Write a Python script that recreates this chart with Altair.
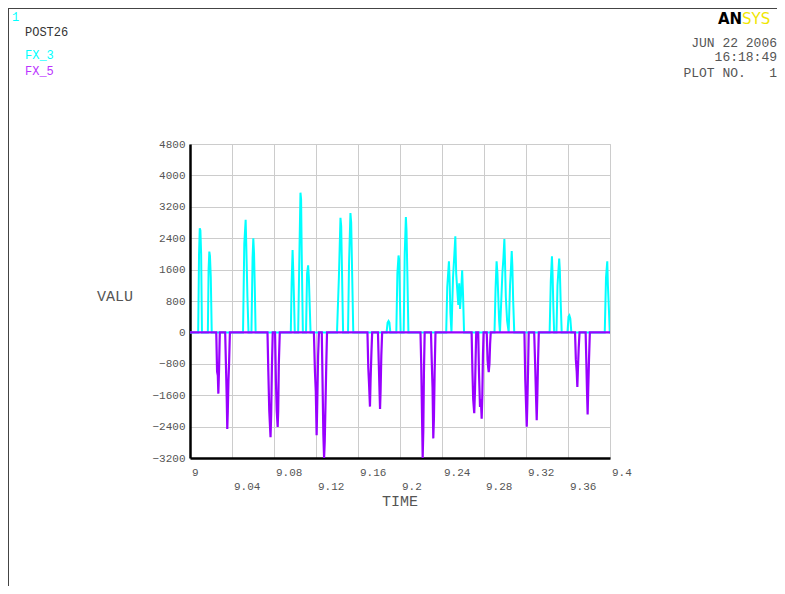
import altair as alt
import pandas as pd

# ---------------- data ----------------
fx3_time = [
    9.0000,
    9.0078, 9.0086, 9.0093, 9.0099, 9.0106, 9.0114,
    9.0170, 9.0177, 9.0184, 9.0190, 9.0198, 9.0207,
    9.0505, 9.0517, 9.0530, 9.0537, 9.0547, 9.0557,
    9.0585, 9.0596, 9.0603, 9.0610, 9.0617, 9.0625,
    9.0960, 9.0968, 9.0977, 9.0983, 9.0990, 9.0998,
    9.1030, 9.1042, 9.1052, 9.1058, 9.1065, 9.1075,
    9.1105, 9.1115, 9.1125, 9.1132, 9.1140, 9.1148,
    9.1400, 9.1418, 9.1433, 9.1440, 9.1448, 9.1458,
    9.1505, 9.1515, 9.1528, 9.1535, 9.1545, 9.1555,
    9.1872, 9.1882, 9.1891, 9.1899, 9.1908,
    9.1965, 9.1975, 9.1986, 9.1992, 9.1998, 9.2006,
    9.2035, 9.2045, 9.2056, 9.2062, 9.2070, 9.2080,
    9.2440, 9.2450, 9.2466, 9.2472, 9.2480, 9.2490, 9.2505, 9.2518, 9.2527,
    9.2535, 9.2545, 9.2555, 9.2564, 9.2572, 9.2580, 9.2592, 9.2600, 9.2610,
    9.2900, 9.2910, 9.2920, 9.2928, 9.2936, 9.2944, 9.2952, 9.2975, 9.2985,
    9.2994, 9.3000, 9.3008, 9.3020, 9.3035, 9.3048, 9.3057, 9.3064, 9.3070,
    9.3078, 9.3088,
    9.3425, 9.3436, 9.3447, 9.3453, 9.3460, 9.3468,
    9.3490, 9.3500, 9.3516, 9.3522, 9.3530, 9.3540,
    9.3595, 9.3605, 9.3613, 9.3622, 9.3632,
    9.3950, 9.3962, 9.3974, 9.3980, 9.3990, 9.3998,
    9.4000,
]
fx3_value = [
    0,
    0, 2000, 2650, 2600, 2000, 0,
    0, 1600, 2060, 1950, 1400, 0,
    0, 2250, 2870, 2100, 900, 0,
    0, 1900, 2400, 2000, 1150, 0,
    0, 1250, 2100, 1600, 900, 0,
    0, 2000, 3560, 3400, 1800, 0,
    0, 1500, 1710, 1400, 700, 0,
    0, 1400, 2920, 2700, 1500, 0,
    0, 1800, 3040, 2800, 1400, 0,
    0, 250, 290, 250, 0,
    0, 1500, 1960, 1850, 1000, 0,
    0, 2000, 2940, 2600, 1500, 0,
    0, 1150, 1810, 1400, 500, 0, 1400, 2000, 2450,
    1500, 1100, 700, 1250, 600, 900, 1580, 1000, 0,
    0, 1100, 1810, 1500, 900, 300, 0, 1500, 1900,
    2380, 1800, 900, 300, 0, 1200, 1650, 2070, 1700,
    800, 0,
    0, 1300, 1940, 1500, 700, 0,
    0, 1200, 1880, 1600, 800, 0,
    0, 400, 433, 350, 0,
    0, 1400, 1810, 1200, 560, 0,
    0,
]

fx5_time = [
    9.0000,
    9.0250, 9.0258, 9.0265, 9.0270, 9.0276, 9.0284,
    9.0335, 9.0343, 9.0350, 9.0355, 9.0360, 9.0366, 9.0372, 9.0380,
    9.0738, 9.0746, 9.0755, 9.0767, 9.0773, 9.0780, 9.0788,
    9.0810, 9.0818, 9.0826, 9.0835, 9.0840, 9.0846, 9.0855,
    9.1180, 9.1190, 9.1198, 9.1206, 9.1212, 9.1220, 9.1228,
    9.1255, 9.1262, 9.1270, 9.1277, 9.1283, 9.1290, 9.1298, 9.1305,
    9.1690, 9.1698, 9.1705, 9.1714, 9.1720, 9.1728, 9.1735,
    9.1790, 9.1798, 9.1805, 9.1810, 9.1815, 9.1822, 9.1830,
    9.2195, 9.2202, 9.2209, 9.2216, 9.2222, 9.2228, 9.2235,
    9.2295, 9.2302, 9.2310, 9.2317, 9.2323, 9.2330, 9.2338,
    9.2682, 9.2690, 9.2697, 9.2707, 9.2714, 9.2720, 9.2726,
    9.2745, 9.2752, 9.2762, 9.2770, 9.2778, 9.2784, 9.2790, 9.2796,
    9.2826, 9.2834, 9.2840, 9.2845, 9.2852, 9.2858, 9.2864,
    9.3185, 9.3193, 9.3200, 9.3207, 9.3213, 9.3220, 9.3226,
    9.3278, 9.3287, 9.3295, 9.3302, 9.3308, 9.3315, 9.3322,
    9.3667, 9.3675, 9.3683, 9.3689, 9.3695, 9.3702, 9.3710,
    9.3768, 9.3775, 9.3781, 9.3787, 9.3793, 9.3800, 9.3808,
    9.4000,
]
fx5_value = [
    0,
    0, -1000, -1100, -1560, -1000, 0,
    0, -900, -1700, -2460, -2000, -1250, -800, 0,
    0, -1000, -2000, -2670, -2100, -900, 0,
    0, -1200, -2000, -2410, -2000, -800, 0,
    0, -1000, -1500, -2620, -1800, -600, 0,
    0, -1200, -2600, -3200, -2800, -1900, -800, 0,
    0, -900, -1300, -1890, -1200, -500, 0,
    0, -800, -1500, -1950, -1500, -600, 0,
    0, -800, -2000, -3200, -2500, -1000, 0,
    0, -700, -1400, -2700, -2200, -1000, 0,
    0, -1000, -1700, -2060, -1500, -700, 0,
    0, -1000, -1900, -1700, -2200, -1600, -600, 0,
    0, -700, -900, -1010, -800, -300, 0,
    0, -1200, -1800, -2400, -1800, -900, 0,
    0, -800, -1600, -2240, -1600, -700, 0,
    0, -700, -1000, -1390, -900, -400, 0,
    0, -800, -1500, -2090, -1400, -700, 0,
    0,
]

x_ticks = [9.0, 9.04, 9.08, 9.12, 9.16, 9.2, 9.24, 9.28, 9.32, 9.36, 9.4]
x_upper_vals = [9.0, 9.08, 9.16, 9.24, 9.32, 9.4]
x_upper_labels = ["9", "9.08", "9.16", "9.24", "9.32", "9.4"]
x_lower_vals = [9.04, 9.12, 9.2, 9.28, 9.36]
x_lower_labels = ["9.04", "9.12", "9.2", "9.28", "9.36"]
y_ticks = [-3200, -2400, -1600, -800, 0, 800, 1600, 2400, 3200, 4000, 4800]

# ---------------- layout ----------------
W, H = 420, 314
PAD_L, PAD_T = 182, 136
TOTAL_W, TOTAL_H = 769, 578
PAD_R = TOTAL_W - PAD_L - W
PAD_B = TOTAL_H - PAD_T - H

MONO = "Liberation Mono"
GRAY = "#555555"
CYAN = "#00ffff"
PURPLE = "#9900ff"
NB = "\u00a0"

xs = alt.Scale(domain=[9.0, 9.4], nice=False, zero=False)
ys = alt.Scale(domain=[-3200, 4800], nice=False, zero=False)

x_axis = alt.Axis(values=x_ticks, labels=False, ticks=False, title=None,
                  grid=True, gridColor="#cccccc", gridWidth=1,
                  domainColor="#000000", domainWidth=2.5)
y_axis = alt.Axis(values=y_ticks, format="d", ticks=False, title=None,
                  labelFont=MONO, labelFontSize=11, labelColor=GRAY,
                  labelPadding=5, labelOverlap=False, labelBound=False,
                  grid=True, gridColor="#cccccc", gridWidth=1,
                  domainColor="#000000", domainWidth=2.5)

df3 = pd.DataFrame({"TIME": fx3_time, "VALU": fx3_value})
df5 = pd.DataFrame({"TIME": fx5_time, "VALU": fx5_value})

line3 = alt.Chart(df3).mark_line(color=CYAN, strokeWidth=2, clip=True).encode(
    x=alt.X("TIME:Q", scale=xs, axis=x_axis),
    y=alt.Y("VALU:Q", scale=ys, axis=y_axis),
)
line5 = alt.Chart(df5).mark_line(color=PURPLE, strokeWidth=2.2, clip=True).encode(
    x=alt.X("TIME:Q", scale=xs, axis=x_axis),
    y=alt.Y("VALU:Q", scale=ys, axis=y_axis),
)

xt_up = alt.Chart(pd.DataFrame({"TIME": x_upper_vals, "label": x_upper_labels})).mark_text(
    align="left", baseline="middle", dx=2, font=MONO, fontSize=11, color=GRAY
).encode(x=alt.X("TIME:Q", scale=xs, axis=x_axis), y=alt.value(329), text="label:N")
xt_lo = alt.Chart(pd.DataFrame({"TIME": x_lower_vals, "label": x_lower_labels})).mark_text(
    align="left", baseline="middle", dx=2, font=MONO, fontSize=11, color=GRAY
).encode(x=alt.X("TIME:Q", scale=xs, axis=x_axis), y=alt.value(343), text="label:N")


def label(text, x, y, color=GRAY, size=11, align="left", weight="normal", font=MONO):
    return alt.Chart(pd.DataFrame({"t": [text]})).mark_text(
        align=align, baseline="middle", font=font, fontSize=size,
        color=color, fontWeight=weight
    ).encode(x=alt.value(x), y=alt.value(y), text="t:N")


texts = [
    label("VALU", -93, 152, size=15),
    label("TIME", 210, 357, size=15, align="center"),
    label("1", -178, -127, color=CYAN, size=12),
    label("POST26", -165, -112, color="#333333", size=12),
    label("FX_3", -165, -89, color=CYAN, size=12),
    label("FX_5", -165, -73, color="#bb33ff", size=12),
    label("JUN 22 2006", 587, -101, size=13, align="right"),
    label("16:18:49", 587, -87, size=13, align="right"),
    label("PLOT" + NB + "NO." + NB * 3 + "1", 587, -71, size=13, align="right"),
    label("AN", 528, -125, color="#000000", size=15, weight="bold", font="DejaVu Sans"),
    label("SYS", 552, -125, color="#f0e600", size=15, font="DejaVu Sans"),
]

frame_df = pd.DataFrame({"a": [0]})
frame_top = alt.Chart(frame_df).mark_rule(color="#444444", strokeWidth=1).encode(
    x=alt.value(-PAD_L), x2=alt.value(TOTAL_W - PAD_L), y=alt.value(-PAD_T + 0.5))
frame_left = alt.Chart(frame_df).mark_rule(color="#444444", strokeWidth=1).encode(
    x=alt.value(-PAD_L + 0.5), y=alt.value(-PAD_T), y2=alt.value(TOTAL_H - PAD_T))

chart = alt.layer(line3, line5, xt_up, xt_lo, frame_top, frame_left, *texts).properties(
    width=W, height=H,
    autosize=alt.AutoSizeParams(type="none"),
    padding={"left": PAD_L, "top": PAD_T, "right": PAD_R, "bottom": PAD_B},
    background="white",
).configure_view(stroke="#cccccc", strokeWidth=1)

chart.save("out.html", embed_options={"renderer": "svg", "actions": False})
